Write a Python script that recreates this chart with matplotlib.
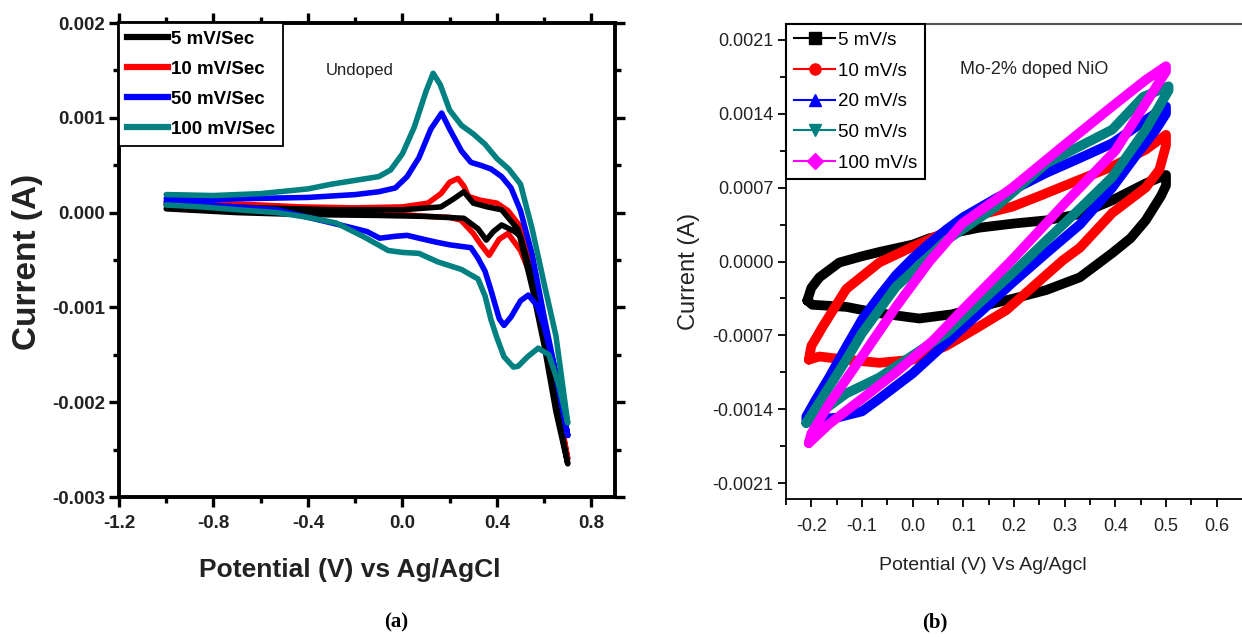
import matplotlib
matplotlib.use("Agg")
import matplotlib.pyplot as plt
from matplotlib.lines import Line2D
from matplotlib.ticker import FixedLocator, FormatStrFormatter

plt.rcParams['font.family'] = ['Liberation Sans', 'DejaVu Sans']
plt.rcParams['axes.unicode_minus'] = False

# ---------------- Panel (a): undoped ----------------
a_labels = ["5 mV/Sec", "10 mV/Sec", "50 mV/Sec", "100 mV/Sec"]
a_colors = ["#000000", "#ff0000", "#0000ff", "#008080"]

a5_x = [-1.0, -0.6, -0.3, 0.0, 0.163, 0.22, 0.26, 0.3, 0.36, 0.42, 0.49, 0.55, 0.6, 0.65, 0.7,
        0.65, 0.6, 0.55, 0.5, 0.475, 0.42, 0.385, 0.355, 0.32, 0.26, 0.1, -0.1, -0.43, -0.7, -1.0]
a5_y = [0.00008, 0.00005, 0.00003, 0.00003, 0.00006, 0.00015, 0.00022, 0.0001, 0.00006, 0.00003,
        -0.00018, -0.0008, -0.0014, -0.0021, -0.00265,
        -0.002, -0.0013, -0.0007, -0.00025, -0.0002, -0.00013, -0.0002, -0.00029, -0.00017,
        -0.00006, -0.00004, -0.00003, -0.00002, 0.0, 0.00004]

a10_x = [-1.0, -0.8, -0.6, -0.43, -0.2, 0.0, 0.108, 0.163, 0.2, 0.235, 0.26, 0.28, 0.33, 0.4,
         0.447, 0.5, 0.557, 0.617, 0.66, 0.7,
         0.65, 0.6, 0.55, 0.5, 0.447, 0.41, 0.367, 0.33, 0.3, 0.248, 0.2, 0.1, 0.0, -0.2,
         -0.43, -0.6, -0.8, -1.0]
a10_y = [0.00012, 0.0001, 0.00008, 0.00006, 0.00005, 0.00006, 0.0001, 0.0002, 0.00032, 0.00036,
         0.00028, 0.00017, 0.00013, 0.0001, 0.00002, -0.00015, -0.0007, -0.00152, -0.0021, -0.0026,
         -0.0019, -0.0012, -0.0007, -0.0004, -0.00022, -0.00028, -0.00045, -0.00033, -0.00022,
         -0.00008, -0.00005, -0.00004, -0.00002, -0.00001, 0.0, 0.00003, 0.00006, 0.00009]

a50_x = [-1.0, -0.8, -0.6, -0.4, -0.2, -0.1, -0.03, 0.02, 0.07, 0.12, 0.166, 0.2, 0.25, 0.29,
         0.33, 0.375, 0.42, 0.46, 0.5, 0.55, 0.6, 0.65, 0.7,
         0.65, 0.6, 0.57, 0.533, 0.5, 0.46, 0.43, 0.41, 0.39, 0.375, 0.35, 0.32, 0.29, 0.2, 0.14,
         0.07, 0.02, -0.03, -0.096, -0.15, -0.23, -0.4, -0.53, -0.7, -0.85, -1.0]
a50_y = [0.00015, 0.00014, 0.00015, 0.00016, 0.00019, 0.00022, 0.00026, 0.00038, 0.00058,
         0.00088, 0.00105, 0.00088, 0.00065, 0.00053, 0.0005, 0.00046, 0.00038, 0.00026, 0.00002,
         -0.00045, -0.0011, -0.0017, -0.00235,
         -0.0017, -0.0012, -0.00098, -0.00087, -0.00093, -0.0011, -0.00119, -0.00112, -0.00095,
         -0.00082, -0.00062, -0.00048, -0.00037, -0.00034, -0.00031, -0.00027, -0.00024, -0.00025,
         -0.00027, -0.0002, -0.00015, -0.00005, 0.00003, 0.00006, 0.00009, 0.00011]

a100_x = [-1.0, -0.8, -0.6, -0.4, -0.3, -0.2, -0.1, -0.05, 0.0, 0.05, 0.1, 0.13, 0.16, 0.2, 0.25,
          0.3, 0.35, 0.4, 0.45, 0.5, 0.55, 0.6, 0.65, 0.7,
          0.66, 0.62, 0.575, 0.53, 0.49, 0.47, 0.43, 0.4, 0.375, 0.35, 0.32, 0.25, 0.15, 0.07,
          0.0, -0.06, -0.16, -0.28, -0.4, -0.53, -0.7, -0.85, -1.0]
a100_y = [0.00019, 0.00018, 0.0002, 0.00025, 0.0003, 0.00034, 0.00038, 0.00045, 0.00062, 0.0009,
          0.00128, 0.00147, 0.00135, 0.00108, 0.00092, 0.00083, 0.00072, 0.00057, 0.00046, 0.0003,
          -0.00018, -0.00075, -0.0013, -0.00222,
          -0.0018, -0.0015, -0.00143, -0.00152, -0.00162, -0.00163, -0.00152, -0.00132, -0.00113,
          -0.00088, -0.0007, -0.0006, -0.00052, -0.00043, -0.00042, -0.0004, -0.00026, -0.00011,
          -0.00005, 0.0, 0.00003, 0.00006, 0.00008]

a_xs = [a5_x, a10_x, a50_x, a100_x]
a_ys = [a5_y, a10_y, a50_y, a100_y]
a_z = [3, 2, 4, 5]

a_xticks = [-1.2, -0.8, -0.4, 0.0, 0.4, 0.8]
a_yticks = [-0.003, -0.002, -0.001, 0.0, 0.001, 0.002]

# ---------------- Panel (b): Mo-2% doped NiO ----------------
b_labels = ["5 mV/s", "10 mV/s", "20 mV/s", "50 mV/s", "100 mV/s"]
b_colors = ["#000000", "#ff0000", "#0000ff", "#008080", "#ff00ff"]
b_markers = ["s", "o", "^", "v", "D"]

b5_x = [-0.208, -0.2, -0.184, -0.145, -0.1, -0.066, 0.0, 0.033, 0.1, 0.131, 0.2, 0.264, 0.33,
        0.394, 0.46, 0.5,
        0.5, 0.49, 0.46, 0.43, 0.394, 0.33, 0.264, 0.2, 0.165, 0.078, 0.013, -0.066, -0.131,
        -0.198, -0.208]
b5_y = [-0.00037, -0.00025, -0.00015, -0.00001, 0.00005, 0.00009, 0.00016, 0.00022, 0.00029,
        0.00032, 0.00036, 0.00039, 0.00045, 0.00058, 0.00074, 0.00082,
        0.00072, 0.00062, 0.00039, 0.00022, 0.00008, -0.00015, -0.00027, -0.00035, -0.00039,
        -0.0005, -0.00054, -0.00049, -0.00043, -0.00041, -0.00037]

b10_x = [-0.205, -0.2, -0.19, -0.178, -0.131, -0.066, 0.0, 0.066, 0.131, 0.197, 0.25, 0.296,
         0.394, 0.46, 0.5,
         0.5, 0.487, 0.46, 0.394, 0.33, 0.296, 0.23, 0.185, 0.13, 0.066, 0.0, -0.066, -0.131,
         -0.184, -0.205]
b10_y = [-0.00093, -0.0008, -0.00072, -0.00062, -0.00026, -0.00001, 0.00014, 0.00028, 0.00044,
         0.00052, 0.00062, 0.00071, 0.0009, 0.00106, 0.0012,
         0.0011, 0.00087, 0.0007, 0.00046, 0.00013, 0.00001, -0.00027, -0.00046, -0.00062,
         -0.0008, -0.00093, -0.00096, -0.00093, -0.0009, -0.00093]

b20_x = [-0.21, -0.19, -0.165, -0.13, -0.1, -0.066, -0.033, 0.0, 0.033, 0.066, 0.1, 0.165, 0.264,
         0.33, 0.394, 0.46, 0.5,
         0.5, 0.48, 0.44, 0.394, 0.33, 0.264, 0.197, 0.131, 0.066, 0.0, -0.066, -0.1, -0.15, -0.21]
b20_y = [-0.00147, -0.0013, -0.0011, -0.0008, -0.00055, -0.00033, -0.00013, 0.00003, 0.00017,
         0.0003, 0.00042, 0.0006, 0.00084, 0.00098, 0.00112, 0.00134, 0.00147,
         0.0014, 0.00125, 0.001, 0.0007, 0.00035, 0.00008, -0.0002, -0.00049, -0.00077, -0.00106,
         -0.0013, -0.00142, -0.00148, -0.0015]

b50_x = [-0.21, -0.19, -0.165, -0.131, -0.1, -0.033, 0.033, 0.066, 0.165, 0.264, 0.394, 0.455,
         0.505,
         0.505, 0.46, 0.394, 0.33, 0.264, 0.197, 0.066, -0.066, -0.131, -0.165, -0.21]
b50_y = [-0.00153, -0.00138, -0.00119, -0.00093, -0.00068, -0.00024, 0.00005, 0.0002, 0.00052,
         0.00093, 0.00125, 0.00156, 0.00166,
         0.00162, 0.00125, 0.0008, 0.0005, 0.0002, -0.00011, -0.00068, -0.0011, -0.00125,
         -0.00137, -0.00153]

b100_x = [-0.205, -0.2, -0.165, -0.1, -0.033, 0.033, 0.098, 0.197, 0.296, 0.394, 0.46, 0.5,
          0.5, 0.46, 0.4, 0.3, 0.197, 0.1, 0.04, -0.033, -0.1, -0.165, -0.205]
b100_y = [-0.00172, -0.00163, -0.00135, -0.0009, -0.00043, 0.0, 0.00036, 0.0007, 0.00109, 0.00147,
          0.00172, 0.00185,
          0.0018, 0.0015, 0.00105, 0.00055, 0.00002, -0.00045, -0.00075, -0.00105, -0.0013,
          -0.00154, -0.00172]

b_xs = [b5_x, b10_x, b20_x, b50_x, b100_x]
b_ys = [b5_y, b10_y, b20_y, b50_y, b100_y]

b_xticks = [-0.2, -0.1, 0.0, 0.1, 0.2, 0.3, 0.4, 0.5, 0.6]
b_yticks = [-0.0021, -0.0014, -0.0007, 0.0, 0.0007, 0.0014, 0.0021]

# ---------------- Figure ----------------
W, H = 1242, 637
fig = plt.figure(figsize=(W / 100, H / 100), dpi=100)


def px_axes(l, t, r, b):
    return fig.add_axes([l / W, 1 - b / H, (r - l) / W, (b - t) / H])


TXT = '#222222'

# Panel (a)
axa = px_axes(119, 23, 615, 497)
for x, y, c, lab, z in zip(a_xs, a_ys, a_colors, a_labels, a_z):
    axa.plot(x, y, color=c, lw=4.0, label=lab, solid_joinstyle='round',
             solid_capstyle='round', zorder=z)
axa.set_xlim(-1.2, 0.9)
axa.set_ylim(-0.003, 0.002)
axa.xaxis.set_major_locator(FixedLocator(a_xticks))
axa.xaxis.set_minor_locator(FixedLocator([-1.0, -0.6, -0.2, 0.2, 0.6]))
axa.yaxis.set_major_locator(FixedLocator(a_yticks))
axa.yaxis.set_minor_locator(FixedLocator([-0.0025, -0.0015, -0.0005, 0.0005, 0.0015]))
axa.xaxis.set_major_formatter(FormatStrFormatter('%.1f'))
axa.yaxis.set_major_formatter(FormatStrFormatter('%.3f'))
for s in axa.spines.values():
    s.set_linewidth(2.8)
axa.tick_params(which='both', direction='out', top=True, right=True, width=2.4)
axa.tick_params(which='major', length=7, labelsize=13.5)
axa.tick_params(axis='x', which='major', pad=6)
axa.tick_params(axis='y', which='major', pad=3)
axa.tick_params(which='minor', length=4.5)
for lbl in axa.get_xticklabels() + axa.get_yticklabels():
    lbl.set_fontweight('bold')
    lbl.set_color(TXT)
axa.set_xlabel("Potential (V) vs Ag/AgCl", fontsize=19, fontweight='bold', color=TXT)
axa.set_ylabel("Current (A)", fontsize=24, fontweight='bold', color=TXT)
axa.xaxis.label.set_va('center')
axa.yaxis.label.set_va('center')
axa.xaxis.set_label_coords((350 - 119) / 496, (497 - 570) / 474)
axa.yaxis.set_label_coords((28 - 119) / 496, (497 - 262) / 474)
axa.text((360 - 119) / 496, 1 - (70 - 23) / 474, "Undoped", transform=axa.transAxes,
         ha='center', va='center', fontsize=12, color=TXT)
a_handles = [Line2D([], [], color=c, lw=4.5) for c in a_colors]
lega = axa.legend(a_handles, a_labels, loc='upper left', bbox_to_anchor=(0, 1),
                  borderaxespad=0, fancybox=False, framealpha=1, edgecolor='black',
                  handlelength=2.2, handletextpad=0.15, labelspacing=0.68, borderpad=0.42,
                  prop={'size': 13.5, 'weight': 'bold'})
lega.get_frame().set_linewidth(1.3)
lega.set_zorder(10)

# Panel (b)
axb = px_axes(786, 24, 1242, 499)
for x, y, c, lab in zip(b_xs, b_ys, b_colors, b_labels):
    axb.plot(x, y, color=c, lw=7, label=lab, solid_joinstyle='round', solid_capstyle='round')
axb.set_xlim(-0.25, 0.65)
axb.set_ylim(-0.00225, 0.00225)
axb.xaxis.set_major_locator(FixedLocator(b_xticks))
axb.xaxis.set_minor_locator(FixedLocator([-0.25, -0.15, -0.05, 0.05, 0.15, 0.25, 0.35, 0.45, 0.55]))
axb.yaxis.set_major_locator(FixedLocator(b_yticks))
axb.yaxis.set_minor_locator(FixedLocator([-0.00175, -0.00105, -0.00035, 0.00035, 0.00105, 0.00175]))
axb.xaxis.set_major_formatter(FormatStrFormatter('%.1f'))
axb.yaxis.set_major_formatter(FormatStrFormatter('%.4f'))
axb.spines['right'].set_visible(False)
axb.spines['top'].set_color('#555555')
axb.spines['top'].set_linewidth(1.5)
axb.spines['left'].set_linewidth(1.3)
axb.spines['bottom'].set_linewidth(1.3)
axb.tick_params(which='both', direction='out', width=1.3)
axb.tick_params(which='major', length=6, labelsize=13)
axb.tick_params(axis='x', which='major', pad=8)
axb.tick_params(axis='y', which='major', pad=3)
axb.tick_params(which='minor', length=4)
for lbl in axb.get_xticklabels() + axb.get_yticklabels():
    lbl.set_color(TXT)
axb.set_xlabel("Potential (V) Vs Ag/Agcl", fontsize=14, color=TXT)
axb.set_ylabel("Current (A)", fontsize=17, color=TXT)
axb.xaxis.label.set_va('center')
axb.yaxis.label.set_va('center')
axb.xaxis.set_label_coords((983 - 786) / 456, (499 - 565) / 475)
axb.yaxis.set_label_coords((689 - 786) / 456, (499 - 271) / 475)
axb.text((1034 - 786) / 456, 1 - (70 - 24) / 475, "Mo-2% doped NiO", transform=axb.transAxes,
         ha='center', va='center', fontsize=13, color=TXT)
b_handles = [Line2D([], [], color=c, lw=1.5, marker=m, markersize=8)
             for c, m in zip(b_colors, b_markers)]
legb = axb.legend(b_handles, b_labels, loc='upper left', bbox_to_anchor=(0, 1),
                  borderaxespad=0, fancybox=False, framealpha=1, edgecolor='black',
                  handlelength=2.2, handletextpad=0.15, labelspacing=0.72, borderpad=0.42,
                  prop={'size': 13.5})
legb.get_frame().set_linewidth(1.5)

fig.text(396 / W, 1 - 622 / H, "(a)", ha='center', va='center', fontsize=15,
         fontweight='bold', family=['Liberation Serif', 'DejaVu Serif'])
fig.text(935 / W, 1 - 622 / H, "(b)", ha='center', va='center', fontsize=15,
         fontweight='bold', family=['Liberation Serif', 'DejaVu Serif'])

fig.savefig("out.png", dpi=100)
